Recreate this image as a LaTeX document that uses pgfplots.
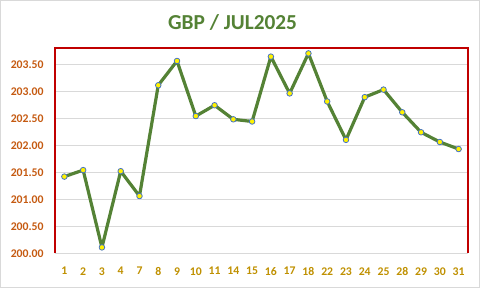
\documentclass[border=0pt]{standalone}
\usepackage{pgfplots}
\pgfplotsset{compat=1.18}
\usepackage{fontspec}
\setmainfont{Carlito}
\definecolor{ttl}{HTML}{548235}
\definecolor{ylab}{HTML}{C55A11}
\definecolor{xlab}{HTML}{BF9000}
\definecolor{ln}{HTML}{548235}
\definecolor{mk}{HTML}{4472C4}
\definecolor{frame}{HTML}{C00000}
\definecolor{grd}{HTML}{D9D9D9}
\begin{document}
\begin{tikzpicture}
\useasboundingbox (0pt,0pt) rectangle (360pt,216pt);
\draw[grd, line width=0.75pt] (0.375pt,0.375pt) rectangle (359.625pt,215.625pt);
\node[text=ttl, font=\fontsize{16}{19}\selectfont\bfseries] at (174.4pt,198.75pt) {GBP / JUL2025};
\begin{axis}[
  at={(41.25pt,26pt)}, anchor=south west,
  scale only axis, width=309.75pt, height=154pt,
  xmin=-0.5, xmax=21.5, ymin=200, ymax=203.8,
  xtick={0,...,21},
  xticklabels={1,2,3,4,7,8,9,10,11,14,15,16,17,18,22,23,24,25,28,29,30,31},
  ytick={200,200.5,...,203.5},
  /pgf/number format/fixed, /pgf/number format/fixed zerofill,
  /pgf/number format/precision=2, /pgf/number format/assume math mode=true,
  ticklabel style={font=\fontsize{8.8}{10}\selectfont\bfseries},
  xticklabel style={text=xlab},
  yticklabel style={text=ylab},
  ymajorgrids, grid style={grd, line width=0.75pt},
  axis line style={draw=none},
  major tick length=0pt,
  xtick pos=bottom, ytick pos=left,
  xticklabel shift=7pt, yticklabel shift=5pt,
  clip=false,
]
\addplot[ln, line width=2.4pt, line join=round, mark=*, mark size=2.1pt,
  mark options={fill=yellow, draw=mk, line width=0.6pt}] coordinates {
(0,201.42) (1,201.54) (2,200.11) (3,201.52) (4,201.06) (5,203.11) (6,203.56)
(7,202.54) (8,202.74) (9,202.48) (10,202.44) (11,203.64) (12,202.96) (13,203.70)
(14,202.81) (15,202.10) (16,202.89) (17,203.03) (18,202.61) (19,202.24) (20,202.06) (21,201.93)
};
\draw[frame, line width=0.9pt] (axis cs:-0.5,200) -- (axis cs:-0.5,203.8) -- (axis cs:21.5,203.8) -- (axis cs:21.5,200);
\end{axis}
\end{tikzpicture}
\end{document}
